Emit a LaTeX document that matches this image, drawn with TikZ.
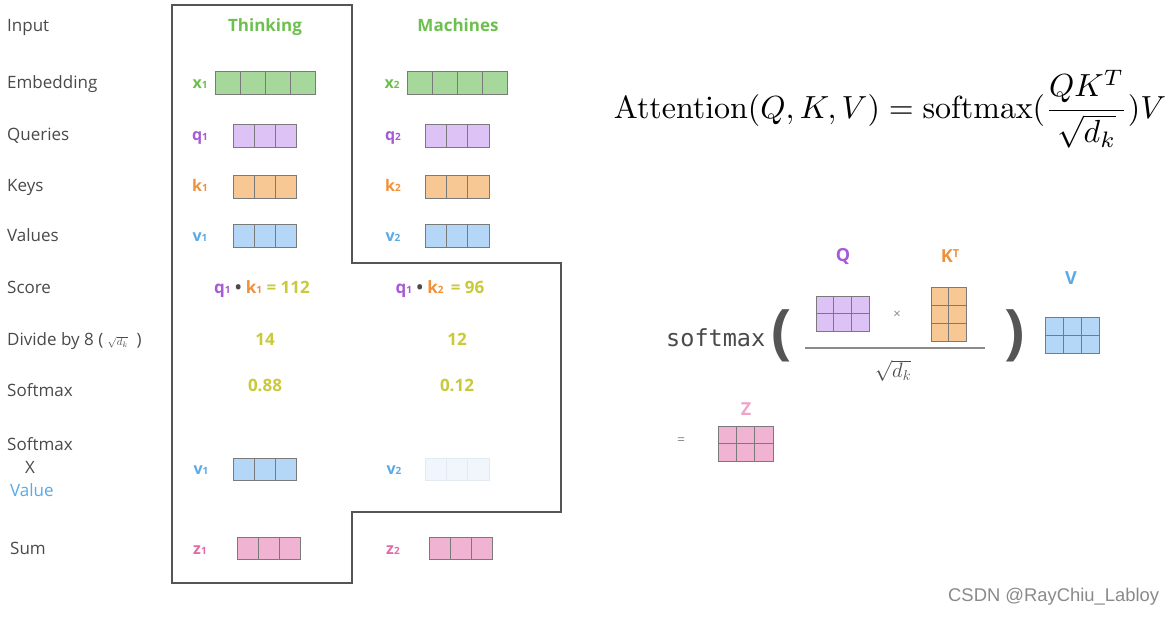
\documentclass[tikz,border=0pt]{standalone}
\usepackage[no-math]{fontspec}
\setmainfont{Open Sans}
\newfontfamily\monofont{DejaVu Sans Mono}
\newfontfamily\wmfont{Liberation Sans}
\definecolor{lbl}{HTML}{4A4A4A}
\definecolor{gfill}{HTML}{A6D89B}
\definecolor{gtxt}{HTML}{6DC04F}
\definecolor{pfill}{HTML}{DDC3F5}
\definecolor{ptxt}{HTML}{A55BD6}
\definecolor{ofill}{HTML}{F7C893}
\definecolor{otxt}{HTML}{F0913A}
\definecolor{bfill}{HTML}{B4D7F7}
\definecolor{btxt}{HTML}{5AAAE6}
\definecolor{zfill}{HTML}{F0B4D2}
\definecolor{ztxt}{HTML}{E26AA6}
\definecolor{zlbl}{HTML}{F0A4C8}
\definecolor{ytxt}{HTML}{C9C93A}
\definecolor{cell}{HTML}{7A7A7A}
\definecolor{vfaint}{HTML}{F1F6FC}
\definecolor{vfaintline}{HTML}{E3EAF2}
\definecolor{outline}{HTML}{555555}
\definecolor{wm}{HTML}{8A8A8A}
\newcommand{\mgrid}[8]{%
  \draw[#8,fill=#1,line width=0.8pt] (#2,#3) rectangle (#4,#5);
  \pgfmathtruncatemacro\ncm{#6-1}%
  \pgfmathtruncatemacro\nrm{#7-1}%
  \ifnum\ncm>0
    \foreach \i in {1,...,\ncm}{\draw[#8,line width=0.8pt] ({#2+\i*(#4-#2)/#6},#3) -- ({#2+\i*(#4-#2)/#6},#5);}%
  \fi
  \ifnum\nrm>0
    \foreach \j in {1,...,\nrm}{\draw[#8,line width=0.8pt] (#2,{#3+\j*(#5-#3)/#7}) -- (#4,{#3+\j*(#5-#3)/#7});}%
  \fi
}
\newcommand{\sub}[1]{{\fontsize{10}{10}\selectfont #1}}
\tikzset{
  rowlbl/.style={anchor=west, inner sep=0, text height=0.75em, text depth=0.25em, yshift=-3pt, text=lbl, font=\fontsize{17}{19}\selectfont},
  word/.style={inner sep=0, text height=0.75em, text depth=0.25em, yshift=-3pt, font=\bfseries\fontsize{17}{19}\selectfont},
  vlbl/.style={inner sep=0, text height=0.75em, text depth=0.25em, yshift=-3pt, font=\bfseries\fontsize{16}{18}\selectfont},
  num/.style={inner sep=0, text height=0.75em, text depth=0.25em, yshift=-3pt, text=ytxt, font=\bfseries\fontsize{17}{19}\selectfont},
  mlbl/.style={inner sep=0, font=\bfseries\fontsize{18}{20}\selectfont},
  paren/.style={inner sep=0, text=outline, font=\bfseries\fontsize{60}{60}\selectfont},
}
\begin{document}
\begin{tikzpicture}[x=1pt,y=-1pt]
\useasboundingbox[fill=white] (0,0) rectangle (1173,616);
% outline
\draw[outline,line width=1.2pt] (172,5) -- (352,5) -- (352,263) -- (561,263) -- (561,512) -- (352,512) -- (352,583) -- (172,583) -- cycle;
% row labels
\node[rowlbl] (lin) at (7,26) {Input};
\node[rowlbl] (lem) at (7,83) {Embedding};
\node[rowlbl] (lq) at (7,135) {Queries};
\node[rowlbl] (lk) at (7,186) {Keys};
\node[rowlbl] (lv) at (7,236) {Values};
\node[rowlbl] (lsc) at (7,288) {Score};
\node[rowlbl] (ldiv) at (7,340) {Divide by 8 ( {\fontsize{11}{11}\selectfont$\sqrt{d_k}$}\hspace{9pt})};
\node[rowlbl] (lsm) at (7,391) {Softmax};
\node[rowlbl] (lsm2) at (7,445) {Softmax};
\node[rowlbl] (lx) at (25,468) {X};
\node[rowlbl,text=btxt] (lval) at (10,491) {Value};
\node[rowlbl] (lsum) at (10,549) {Sum};
% words
\node[word,text=gtxt] (w1) at (265,26) {Thinking};
\node[word,text=gtxt] (w2) at (458,26) {Machines};
% Thinking column
\node[vlbl,text=gtxt] (x1) at (200,83) {x\sub{1}};
\mgrid{gfill}{215}{71}{315}{94}{4}{1}{cell}
\node[vlbl,text=ptxt] (q1) at (200,135) {q\sub{1}};
\mgrid{pfill}{233}{124}{296}{147}{3}{1}{cell}
\node[vlbl,text=otxt] (k1) at (200,186) {k\sub{1}};
\mgrid{ofill}{233}{175}{296}{198}{3}{1}{cell}
\node[vlbl,text=btxt] (v1) at (200,236) {v\sub{1}};
\mgrid{bfill}{233}{224}{296}{247}{3}{1}{cell}
% Machines column
\node[vlbl,text=gtxt] (x2) at (392,83) {x\sub{2}};
\mgrid{gfill}{407}{71}{507}{94}{4}{1}{cell}
\node[vlbl,text=ptxt] (q2) at (393,135) {q\sub{2}};
\mgrid{pfill}{425}{124}{489}{147}{3}{1}{cell}
\node[vlbl,text=otxt] (k2) at (393,186) {k\sub{2}};
\mgrid{ofill}{425}{175}{489}{198}{3}{1}{cell}
\node[vlbl,text=btxt] (v2) at (393,236) {v\sub{2}};
\mgrid{bfill}{425}{224}{489}{247}{3}{1}{cell}
% score
\node[num] (s1) at (262,288) {\textcolor{ptxt}{q\sub{1}}\ \textcolor{lbl}{•}\ \textcolor{otxt}{k\sub{1}} = 112};
\node[num] (s2) at (440,288) {\textcolor{ptxt}{q\sub{1}}\ \textcolor{lbl}{•}\ \textcolor{otxt}{k\sub{2}}\ \,= 96};
\node[num] (d1) at (265,340) {14};
\node[num] (d2) at (457,340) {12};
\node[num] (m1) at (265,386) {0.88};
\node[num] (m2) at (457,386) {0.12};
% softmax x value
\node[vlbl,text=btxt] (sv1) at (201,469) {v\sub{1}};
\mgrid{bfill}{233}{458}{296}{480}{3}{1}{cell}
\node[vlbl,text=btxt] (sv2) at (394,469) {v\sub{2}};
\mgrid{vfaint}{425}{458}{489}{480}{3}{1}{vfaintline}
% sum
\node[vlbl,text=ztxt] (z1) at (200,549) {z\sub{1}};
\mgrid{zfill}{237}{537}{300}{559}{3}{1}{cell}
\node[vlbl,text=ztxt] (z2) at (393,549) {z\sub{2}};
\mgrid{zfill}{429}{537}{492}{559}{3}{1}{cell}
% attention formula
\node[inner sep=0] (att) at (890,109) {\resizebox{552pt}{!}{$\displaystyle\mathrm{Attention}(Q,K,V)=\mathrm{softmax}(\frac{QK^T}{\sqrt{d_k}})V$}};
% softmax matrix diagram
\node[anchor=west,inner sep=0,text=lbl,font=\monofont\fontsize{23.5}{25}\selectfont] (smx) at (666,338) {softmax};
\node[paren] (lp) at (782,336) {(};
\node[paren] (rp) at (1015,336) {)};
\draw[wm,line width=1.5pt] (805,348) -- (985,348);
\node[mlbl,text=ptxt] (Ql) at (843,256) {Q};
\mgrid{pfill}{816}{296}{869}{331}{3}{2}{cell}
\node[inner sep=0,text=wm,font=\fontsize{13}{13}\selectfont] (times) at (897,315) {×};
\node[mlbl,text=otxt] (Kl) at (950,256) {K\raisebox{5pt}{\fontsize{11}{11}\selectfont T}};
\mgrid{ofill}{931}{287}{966}{341}{2}{3}{cell}
\node[inner sep=0,text=lbl,font=\fontsize{20}{20}\selectfont] (sq) at (893,371) {$\sqrt{d_k}$};
\node[mlbl,text=btxt] (Vl) at (1071,278) {V};
\mgrid{bfill}{1045}{317}{1099}{353}{3}{2}{cell}
\node[inner sep=0,text=wm,font=\fontsize{14}{14}\selectfont] (eq) at (681,441) {=};
\node[mlbl,text=zlbl] (Zl) at (746,409) {Z};
\mgrid{zfill}{718}{426}{773}{461}{3}{2}{cell}
% watermark
\node[anchor=west,inner sep=0,text=wm,font=\wmfont\fontsize{18.4}{19}\selectfont] (wmk) at (948,597) {CSDN @RayChiu\_Labloy};
\end{tikzpicture}
\end{document}
